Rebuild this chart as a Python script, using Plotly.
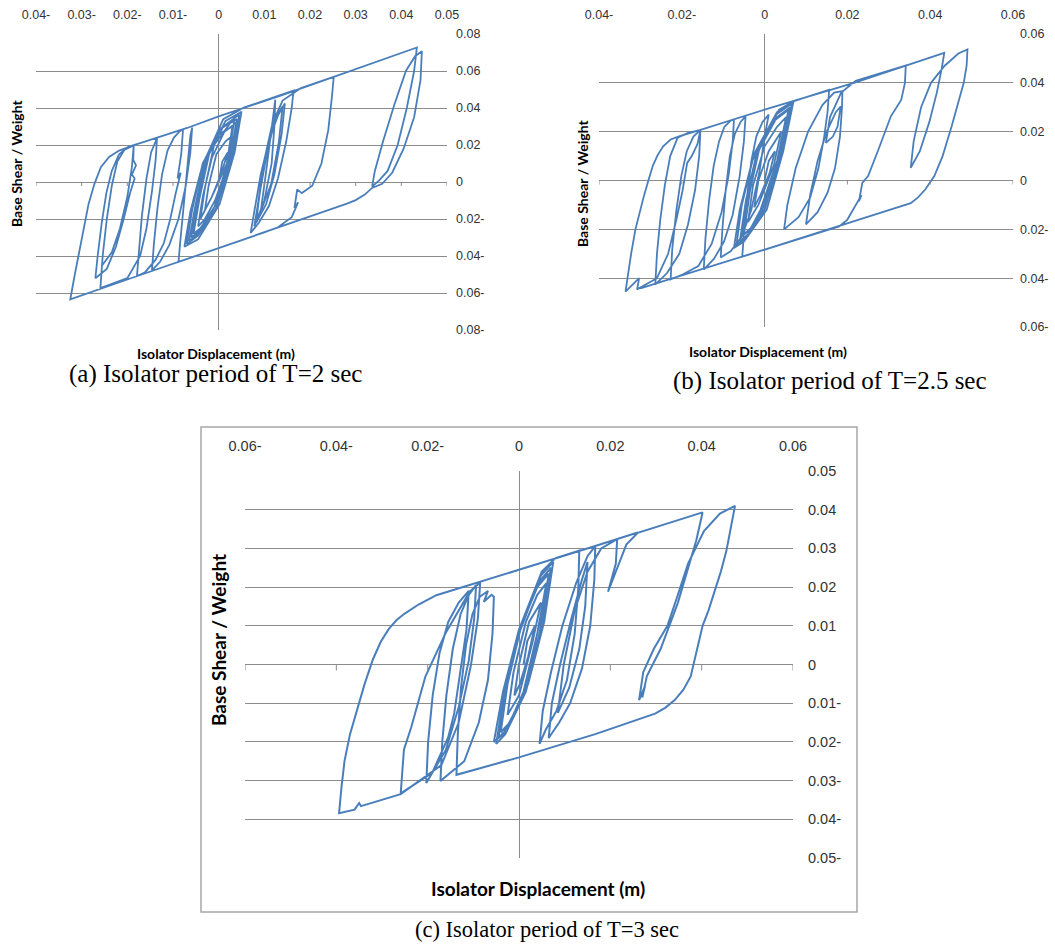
import plotly.graph_objects as go

# ---------------- data (isolator displacement [m], base shear / weight) ----------------
# Panel (a) T = 2 s
path_a = [
    # dense central loops
    (0.0000, 0.0000), (0.0008, 0.0110), (0.0020, 0.0160),
    (0.0005, 0.0040), (-0.0015, -0.0080), (-0.0030, -0.0150),
    (-0.0022, -0.0020), (-0.0005, 0.0150), (0.0015, 0.0220), (0.0030, 0.0250),
    (0.0018, 0.0080), (-0.0008, -0.0100), (-0.0030, -0.0200), (-0.0045, -0.0240),
    (-0.0035, -0.0080), (-0.0015, 0.0130), (0.0012, 0.0270), (0.0038, 0.0320),
    (0.0025, 0.0120), (-0.0005, -0.0120), (-0.0040, -0.0260), (-0.0060, -0.0300),
    (-0.0048, -0.0120), (-0.0025, 0.0130), (0.0010, 0.0300), (0.0045, 0.0365),
    (0.0030, 0.0140), (-0.0005, -0.0140), (-0.0045, -0.0290), (-0.0070, -0.0335),
    (-0.0058, -0.0150), (-0.0035, 0.0100), (0.0005, 0.0290), (0.0040, 0.0340),
    (0.0025, 0.0120), (-0.0008, -0.0130), (-0.0040, -0.0250), (-0.0055, -0.0280),
    (-0.0042, -0.0090), (-0.0020, 0.0160), (0.0015, 0.0330), (0.0050, 0.0380),
    (0.0035, 0.0160), (0.0002, -0.0120), (-0.0045, -0.0310), (-0.0075, -0.0350),
    (-0.0062, -0.0160), (-0.0040, 0.0050), (-0.0005, 0.0250), (0.0030, 0.0300),
    (0.0018, 0.0100), (-0.0015, -0.0080), (-0.0040, -0.0200),
    (-0.0030, -0.0030), (-0.0010, 0.0200), (0.0035, 0.0350),
    (0.0022, 0.0130), (-0.0010, -0.0140), (-0.0045, -0.0280), (-0.0065, -0.0320),
    (-0.0052, -0.0140), (-0.0030, 0.0120), (0.0010, 0.0340), (0.0055, 0.0402),
    # along upper branch to first right reversal
    (0.0100, 0.0440), (0.0164, 0.0494),
    # right-centre loops
    (0.0160, 0.0400), (0.0148, 0.0220), (0.0130, 0.0020), (0.0110, -0.0130),
    (0.0088, -0.0220), (0.0070, -0.0275),
    (0.0078, -0.0160), (0.0092, 0.0040), (0.0112, 0.0240), (0.0130, 0.0360), (0.0145, 0.0425),
    (0.0138, 0.0260), (0.0122, 0.0040), (0.0104, -0.0120), (0.0082, -0.0220),
    (0.0090, -0.0060), (0.0106, 0.0160), (0.0124, 0.0340), (0.0140, 0.0410),
    (0.0132, 0.0220), (0.0115, -0.0010), (0.0092, -0.0160),
    (0.0102, 0.0020), (0.0116, 0.0300), (0.0124, 0.0445),
    (0.0122, 0.0300), (0.0116, 0.0100), (0.0100, -0.0100), (0.0078, -0.0240),
    (0.0086, -0.0120), (0.0100, 0.0120), (0.0118, 0.0320), (0.0140, 0.0440),
    (0.0180, 0.0508), (0.0252, 0.0569),
    (0.0248, 0.0460), (0.0240, 0.0280), (0.0225, 0.0100), (0.0205, -0.0020),
    (0.0182, -0.0060), (0.0172, -0.0040), (0.0166, -0.0140), (0.0174, -0.0110),
    (0.0160, -0.0190), (0.0130, -0.0245), (0.0100, -0.0272), (0.0050, -0.0315),
    (0.0000, -0.0357), (-0.0088, -0.0432),
    # left-centre loops
    (-0.0084, -0.0320), (-0.0078, -0.0160), (-0.0072, 0.0020), (-0.0066, 0.0180),
    (-0.0062, 0.0250), (-0.0058, 0.0295),
    (-0.0062, 0.0160), (-0.0072, -0.0020), (-0.0088, -0.0200), (-0.0108, -0.0340),
    (-0.0128, -0.0430), (-0.0146, -0.0478),
    (-0.0142, -0.0340), (-0.0134, -0.0140), (-0.0124, 0.0040), (-0.0112, 0.0170),
    (-0.0098, 0.0240), (-0.0085, 0.0275), (-0.0078, 0.0285),
    (-0.0082, 0.0150), (-0.0090, 0.0020), (-0.0083, 0.0050), (-0.0094, -0.0060),
    (-0.0106, -0.0200), (-0.0120, -0.0330), (-0.0138, -0.0420), (-0.0162, -0.0490),
    (-0.0179, -0.0509),
    (-0.0175, -0.0380), (-0.0168, -0.0180), (-0.0158, 0.0020), (-0.0148, 0.0160),
    (-0.0135, 0.0238),
    (-0.0138, 0.0120), (-0.0146, -0.0050), (-0.0158, -0.0250), (-0.0172, -0.0400),
    (-0.0200, -0.0520), (-0.0259, -0.0573),
    (-0.0254, -0.0400), (-0.0245, -0.0200), (-0.0234, -0.0020), (-0.0222, 0.0110),
    (-0.0206, 0.0175), (-0.0186, 0.0198),
    (-0.0187, 0.0120), (-0.0181, 0.0090), (-0.0190, 0.0040), (-0.0184, 0.0020),
    (-0.0194, -0.0060), (-0.0208, -0.0200), (-0.0225, -0.0350), (-0.0245, -0.0470),
    (-0.0270, -0.0520),
    (-0.0265, -0.0400), (-0.0256, -0.0220), (-0.0246, -0.0060), (-0.0234, 0.0060),
    (-0.0218, 0.0150), (-0.0198, 0.0190), (-0.0165, 0.0215), (-0.0135, 0.0240),
    (-0.0069, 0.0292), (0.0000, 0.0355), (0.0142, 0.0472), (0.0252, 0.0568),
    (0.0434, 0.0727),
    # big right reversal
    (0.0428, 0.0600), (0.0412, 0.0400), (0.0392, 0.0200), (0.0370, 0.0060),
    (0.0352, 0.0010), (0.0336, -0.0025),
    (0.0342, 0.0060), (0.0360, 0.0220), (0.0385, 0.0420), (0.0410, 0.0600),
    (0.0430, 0.0680), (0.0445, 0.0707),
    (0.0442, 0.0550), (0.0428, 0.0350), (0.0405, 0.0180), (0.0380, 0.0050),
    (0.0358, -0.0010), (0.0336, -0.0032),
    (0.0320, -0.0068), (0.0300, -0.0098), (0.0281, -0.0117), (0.0193, -0.0193),
    (0.0000, -0.0357), (-0.0186, -0.0515), (-0.0325, -0.0635),
    # big left reversal
    (-0.0315, -0.0500), (-0.0300, -0.0300), (-0.0285, -0.0120), (-0.0272, -0.0010),
    (-0.0258, 0.0080), (-0.0240, 0.0135), (-0.0218, 0.0170), (-0.0186, 0.0198),
    (-0.0190, 0.0080), (-0.0200, -0.0080), (-0.0216, -0.0250), (-0.0234, -0.0380),
    (-0.0255, -0.0450),
]

# Panel (b) T = 2.5 s
path_b = [
    (0.0000, 0.0000), (0.0010, 0.0080), (0.0025, 0.0120),
    (0.0012, 0.0030), (-0.0010, -0.0060), (-0.0025, -0.0110),
    (-0.0015, 0.0000), (0.0010, 0.0120), (0.0040, 0.0200),
    (0.0022, 0.0060), (-0.0015, -0.0100), (-0.0040, -0.0170),
    (-0.0028, -0.0020), (0.0000, 0.0140), (0.0030, 0.0220), (0.0052, 0.0260),
    (0.0030, 0.0080), (-0.0010, -0.0120), (-0.0035, -0.0200), (-0.0055, -0.0230),
    (-0.0042, -0.0070), (-0.0015, 0.0120), (0.0030, 0.0260), (0.0062, 0.0300),
    (0.0040, 0.0110), (0.0000, -0.0120), (-0.0045, -0.0235), (-0.0068, -0.0265),
    (-0.0055, -0.0100), (-0.0025, 0.0110), (0.0030, 0.0280), (0.0070, 0.0325),
    (0.0045, 0.0120), (0.0005, -0.0120), (-0.0050, -0.0250), (-0.0074, -0.0276),
    (-0.0060, -0.0120), (-0.0030, 0.0080), (0.0020, 0.0240), (0.0058, 0.0290),
    (0.0032, 0.0090), (-0.0005, -0.0120), (-0.0040, -0.0220), (-0.0060, -0.0250),
    (-0.0045, -0.0080), (-0.0018, 0.0120), (0.0028, 0.0270), (0.0066, 0.0315),
    (0.0038, 0.0110), (0.0000, -0.0100), (-0.0030, -0.0190), (-0.0050, -0.0220),
    (-0.0035, -0.0040), (-0.0010, 0.0150), (0.0035, 0.0290), (0.0071, 0.0325),
    # upper branch, right-centre loops
    (0.0156, 0.0372),
    (0.0152, 0.0280), (0.0144, 0.0180), (0.0130, 0.0050), (0.0110, -0.0070),
    (0.0082, -0.0150), (0.0047, -0.0200),
    (0.0055, -0.0100), (0.0075, 0.0050), (0.0105, 0.0200), (0.0140, 0.0310),
    (0.0168, 0.0360), (0.0188, 0.0366),
    (0.0187, 0.0300), (0.0182, 0.0180), (0.0170, 0.0050), (0.0152, -0.0050),
    (0.0128, -0.0130), (0.0100, -0.0180),
    (0.0110, -0.0060), (0.0128, 0.0080), (0.0150, 0.0200), (0.0172, 0.0280),
    (0.0184, 0.0304),
    (0.0176, 0.0220), (0.0165, 0.0180), (0.0148, 0.0154),
    (0.0158, 0.0260), (0.0185, 0.0360), (0.0220, 0.0408), (0.0341, 0.0471),
    (0.0339, 0.0400), (0.0330, 0.0330), (0.0305, 0.0263), (0.0275, 0.0127),
    (0.0250, 0.0018), (0.0236, -0.0010), (0.0228, -0.0085), (0.0234, -0.0060),
    (0.0216, -0.0112), (0.0200, -0.0160), (0.0180, -0.0188),
    (0.0000, -0.0283), (-0.0054, -0.0312),
    # left loops
    (-0.0050, -0.0220), (-0.0042, -0.0060), (-0.0032, 0.0080), (-0.0020, 0.0180),
    (-0.0005, 0.0240), (0.0010, 0.0270),
    (0.0000, 0.0180), (-0.0012, 0.0040), (-0.0032, -0.0120), (-0.0055, -0.0230),
    (-0.0082, -0.0290), (-0.0106, -0.0315),
    (-0.0102, -0.0200), (-0.0094, -0.0040), (-0.0084, 0.0100), (-0.0072, 0.0190),
    (-0.0058, 0.0240), (-0.0046, 0.0263),
    (-0.0050, 0.0160), (-0.0060, 0.0020), (-0.0077, -0.0140), (-0.0098, -0.0250),
    (-0.0122, -0.0320), (-0.0147, -0.0365),
    (-0.0143, -0.0240), (-0.0134, -0.0080), (-0.0123, 0.0060), (-0.0110, 0.0160),
    (-0.0097, 0.0220), (-0.0082, 0.0245), (-0.0074, 0.0250),
    (-0.0077, 0.0160), (-0.0087, 0.0020), (-0.0104, -0.0130), (-0.0128, -0.0260),
    (-0.0160, -0.0350), (-0.0198, -0.0385), (-0.0227, -0.0405),
    (-0.0223, -0.0280), (-0.0213, -0.0120), (-0.0201, 0.0020), (-0.0188, 0.0120),
    (-0.0172, 0.0180), (-0.0155, 0.0207),
    (-0.0158, 0.0100), (-0.0168, -0.0040), (-0.0185, -0.0180), (-0.0206, -0.0300),
    (-0.0236, -0.0380), (-0.0264, -0.0426),
    (-0.0260, -0.0300), (-0.0252, -0.0160), (-0.0241, -0.0020), (-0.0228, 0.0100),
    (-0.0210, 0.0175), (-0.0185, 0.0195), (-0.0155, 0.0207),
    (-0.0162, 0.0150), (-0.0176, 0.0100), (-0.0187, 0.0072), (-0.0198, -0.0040),
    (-0.0213, -0.0160), (-0.0233, -0.0300), (-0.0260, -0.0400), (-0.0308, -0.0446),
    (-0.0303, -0.0400), (-0.0336, -0.0455),
    # big left loop
    (-0.0330, -0.0380), (-0.0322, -0.0296), (-0.0312, -0.0200), (-0.0302, -0.0132),
    (-0.0291, -0.0060), (-0.0280, 0.0004), (-0.0270, 0.0060), (-0.0259, 0.0102),
    (-0.0245, 0.0140), (-0.0227, 0.0168), (-0.0205, 0.0182), (-0.0155, 0.0207),
    (0.0000, 0.0290), (0.0216, 0.0400), (0.0434, 0.0523),
    # big right loop
    (0.0428, 0.0460), (0.0416, 0.0360), (0.0398, 0.0240), (0.0375, 0.0120),
    (0.0353, 0.0052),
    (0.0360, 0.0160), (0.0378, 0.0300), (0.0402, 0.0400), (0.0435, 0.0470),
    (0.0468, 0.0520), (0.0490, 0.0537),
    (0.0488, 0.0470), (0.0481, 0.0400), (0.0468, 0.0320), (0.0452, 0.0223),
    (0.0430, 0.0100), (0.0410, 0.0018), (0.0388, -0.0037), (0.0370, -0.0070),
    (0.0353, -0.0093),
    (0.0152, -0.0203), (0.0000, -0.0283), (-0.0227, -0.0403), (-0.0300, -0.0442),
]

# Panel (c) T = 3 s
path_c = [
    (0.0010, 0.0000), (0.0018, 0.0060), (0.0035, 0.0100),
    (0.0020, 0.0020), (0.0002, -0.0050), (-0.0010, -0.0080),
    (0.0000, 0.0000), (0.0022, 0.0110), (0.0048, 0.0160),
    (0.0030, 0.0060), (0.0000, -0.0080), (-0.0025, -0.0130),
    (-0.0012, -0.0020), (0.0015, 0.0110), (0.0040, 0.0180), (0.0060, 0.0210),
    (0.0040, 0.0080), (0.0010, -0.0070), (-0.0020, -0.0150), (-0.0040, -0.0175),
    (-0.0025, -0.0050), (0.0005, 0.0100), (0.0045, 0.0215), (0.0070, 0.0250),
    (0.0050, 0.0100), (0.0015, -0.0070), (-0.0030, -0.0180), (-0.0050, -0.0205),
    (-0.0033, -0.0080), (0.0000, 0.0080), (0.0048, 0.0230), (0.0075, 0.0265),
    (0.0055, 0.0110), (0.0020, -0.0050), (-0.0025, -0.0165), (-0.0045, -0.0190),
    (-0.0028, -0.0060), (0.0005, 0.0100), (0.0040, 0.0200), (0.0065, 0.0235),
    (0.0045, 0.0080), (0.0010, -0.0080), (-0.0035, -0.0180), (-0.0055, -0.0200),
    (-0.0035, -0.0070), (0.0000, 0.0090), (0.0050, 0.0240), (0.0080, 0.0275),
    # upper branch, right-centre loops
    (0.0132, 0.0294),
    (0.0130, 0.0200), (0.0122, 0.0080), (0.0105, -0.0040), (0.0082, -0.0120),
    (0.0058, -0.0170), (0.0045, -0.0205),
    (0.0052, -0.0120), (0.0070, -0.0020), (0.0095, 0.0100), (0.0125, 0.0210),
    (0.0150, 0.0280), (0.0167, 0.0306),
    (0.0165, 0.0220), (0.0156, 0.0100), (0.0138, -0.0010), (0.0112, -0.0100),
    (0.0088, -0.0150), (0.0065, -0.0190),
    (0.0072, -0.0100), (0.0090, 0.0000), (0.0115, 0.0120), (0.0138, 0.0220),
    (0.0150, 0.0265),
    (0.0145, 0.0150), (0.0132, 0.0040), (0.0110, -0.0060), (0.0085, -0.0125),
    (0.0098, 0.0000), (0.0122, 0.0140), (0.0150, 0.0240), (0.0180, 0.0300),
    (0.0215, 0.0324),
    (0.0212, 0.0260), (0.0195, 0.0188), (0.0222, 0.0271), (0.0235, 0.0310),
    (0.0260, 0.0340), (0.0402, 0.0393),
    # big right excursion
    (0.0388, 0.0320), (0.0368, 0.0240), (0.0348, 0.0160), (0.0332, 0.0109),
    (0.0310, 0.0040), (0.0280, -0.0030), (0.0270, -0.0085), (0.0276, -0.0055),
    (0.0263, -0.0092),
    (0.0272, -0.0020), (0.0295, 0.0040), (0.0325, 0.0100), (0.0345, 0.0170),
    (0.0370, 0.0260), (0.0405, 0.0345), (0.0440, 0.0390), (0.0473, 0.0410),
    (0.0465, 0.0360), (0.0454, 0.0293), (0.0442, 0.0240), (0.0428, 0.0188),
    (0.0415, 0.0140), (0.0402, 0.0100), (0.0390, 0.0040), (0.0376, -0.0031),
    (0.0360, -0.0065), (0.0341, -0.0092), (0.0320, -0.0112), (0.0298, -0.0127),
    (0.0167, -0.0180), (0.0000, -0.0240), (-0.0137, -0.0285),
    # left loops
    (-0.0134, -0.0180), (-0.0127, -0.0060), (-0.0116, 0.0050), (-0.0102, 0.0130),
    (-0.0086, 0.0175), (-0.0068, 0.0190), (-0.0077, 0.0162), (-0.0060, 0.0180),
    (-0.0055, 0.0175),
    (-0.0058, 0.0080), (-0.0068, -0.0040), (-0.0088, -0.0150), (-0.0120, -0.0250),
    (-0.0172, -0.0301),
    (-0.0168, -0.0200), (-0.0159, -0.0080), (-0.0145, 0.0040), (-0.0128, 0.0130),
    (-0.0110, 0.0180), (-0.0094, 0.0205),
    (-0.0098, 0.0120), (-0.0110, 0.0010), (-0.0132, -0.0110), (-0.0160, -0.0220),
    (-0.0203, -0.0306),
    (-0.0199, -0.0200), (-0.0189, -0.0080), (-0.0174, 0.0030), (-0.0155, 0.0110),
    (-0.0132, 0.0160), (-0.0110, 0.0190),
    (-0.0115, 0.0090), (-0.0128, -0.0020), (-0.0142, -0.0127), (-0.0155, -0.0188),
    (-0.0190, -0.0280), (-0.0259, -0.0333),
    (-0.0252, -0.0220), (-0.0236, -0.0162), (-0.0205, -0.0031), (-0.0160, 0.0083),
    (-0.0108, 0.0188), (-0.0085, 0.0212),
    (-0.0090, 0.0120), (-0.0105, 0.0000), (-0.0132, -0.0150), (-0.0170, -0.0260),
    (-0.0259, -0.0335), (-0.0346, -0.0366), (-0.0350, -0.0358), (-0.0360, -0.0375),
    (-0.0394, -0.0384),
    # big left loop and upper branch
    (-0.0389, -0.0320), (-0.0382, -0.0249), (-0.0370, -0.0180), (-0.0355, -0.0118),
    (-0.0338, -0.0050), (-0.0320, 0.0013), (-0.0303, 0.0058), (-0.0285, 0.0092),
    (-0.0268, 0.0115), (-0.0251, 0.0131), (-0.0220, 0.0155), (-0.0181, 0.0179),
    (-0.0094, 0.0210), (0.0000, 0.0245), (0.0167, 0.0306), (0.0260, 0.0341),
]

# tick values and labels (minus sign written after the number, as in the original)
xticks_a = [-0.04, -0.03, -0.02, -0.01, 0, 0.01, 0.02, 0.03, 0.04, 0.05]
xlabels_a = ["0.04-", "0.03-", "0.02-", "0.01-", "0", "0.01", "0.02", "0.03", "0.04", "0.05"]
yticks_a = [-0.08, -0.06, -0.04, -0.02, 0, 0.02, 0.04, 0.06, 0.08]
ylabels_a = ["0.08-", "0.06-", "0.04-", "0.02-", "0", "0.02", "0.04", "0.06", "0.08"]

xticks_b = [-0.04, -0.02, 0, 0.02, 0.04, 0.06]
xlabels_b = ["0.04-", "0.02-", "0", "0.02", "0.04", "0.06"]
yticks_b = [-0.06, -0.04, -0.02, 0, 0.02, 0.04, 0.06]
ylabels_b = ["0.06-", "0.04-", "0.02-", "0", "0.02", "0.04", "0.06"]

xticks_c = [-0.06, -0.04, -0.02, 0, 0.02, 0.04, 0.06]
xlabels_c = ["0.06-", "0.04-", "0.02-", "0", "0.02", "0.04", "0.06"]
yticks_c = [-0.05, -0.04, -0.03, -0.02, -0.01, 0, 0.01, 0.02, 0.03, 0.04, 0.05]
ylabels_c = ["0.05-", "0.04-", "0.03-", "0.02-", "0.01-", "0", "0.01", "0.02", "0.03", "0.04", "0.05"]

x_title = "Isolator Displacement (m)"
y_title = "Base Shear / Weight"
captions = ["(a) Isolator period of T=2 sec", "(b) Isolator period of T=2.5 sec",
            "(c) Isolator period of T=3 sec"]

# ---------------- styling ----------------
W, H = 1055, 945
LINE = "#4a7ebb"
GRID = "#8c8c8c"
TICKC = "#333333"
TICKFONT = "Liberation Sans"
TITLEFONT = "Lato"
CAPFONT = "Liberation Serif"


def px_x(p):
    return p / W


def px_y(p):
    return 1 - p / H


fig = go.Figure()

panels = [
    dict(ax="", path=path_a, xr=[-0.04, 0.05], yr=[-0.08, 0.08], xd=(36, 447), yd=(34, 330),
         xt=xticks_a, xl=xlabels_a, yt=yticks_a, yl=ylabels_a, fs=12.5, lw=1.8,
         xso=12, yso=8, tick=4),
    dict(ax="2", path=path_b, xr=[-0.04, 0.06], yr=[-0.06, 0.06], xd=(599, 1013), yd=(34, 327),
         xt=xticks_b, xl=xlabels_b, yt=yticks_b, yl=ylabels_b, fs=12.5, lw=1.8,
         xso=12, yso=6, tick=4),
    dict(ax="3", path=path_c, xr=[-0.06, 0.06], yr=[-0.05, 0.05], xd=(245, 793), yd=(471, 858),
         xt=xticks_c, xl=xlabels_c, yt=yticks_c, yl=ylabels_c, fs=14.5, lw=2.0,
         xso=16, yso=14, tick=6),
]

layout_axes = {}
shapes = []
for p in panels:
    xs = [pt[0] for pt in p["path"]]
    ys = [pt[1] for pt in p["path"]]
    fig.add_trace(go.Scatter(
        x=xs, y=ys, mode="lines", line=dict(color=LINE, width=p["lw"]),
        xaxis="x" + p["ax"], yaxis="y" + p["ax"], showlegend=False, hoverinfo="skip"))
    xname = "xaxis" + p["ax"]
    yname = "yaxis" + p["ax"]
    layout_axes[xname] = dict(
        domain=[px_x(p["xd"][0]), px_x(p["xd"][1])], range=p["xr"], side="top",
        anchor="y" + p["ax"], tickmode="array", tickvals=p["xt"], ticktext=p["xl"],
        showgrid=False, zeroline=True, zerolinecolor=GRID, zerolinewidth=1,
        showline=False, ticks="", ticklabelstandoff=p["xso"], automargin=False,
        tickfont=dict(family=TICKFONT, size=p["fs"], color=TICKC), fixedrange=True)
    layout_axes[yname] = dict(
        domain=[px_y(p["yd"][1]), px_y(p["yd"][0])], range=p["yr"], side="right",
        anchor="x" + p["ax"], tickmode="array", tickvals=p["yt"], ticktext=p["yl"],
        showgrid=True, gridcolor=GRID, gridwidth=1, zeroline=True, zerolinecolor=GRID,
        zerolinewidth=1, showline=False, ticks="", ticklabelstandoff=p["yso"],
        automargin=False,
        tickfont=dict(family=TICKFONT, size=p["fs"], color=TICKC), fixedrange=True)
    # small tick marks hanging below the horizontal axis (y = 0)
    for tv in p["xt"]:
        shapes.append(dict(type="line", xref="x" + p["ax"], yref="y" + p["ax"],
                           x0=tv, x1=tv, ysizemode="pixel", yanchor=0, y0=0, y1=-p["tick"],
                           line=dict(color=GRID, width=1)))

# frame around panel (c)
shapes.append(dict(type="rect", xref="paper", yref="paper",
                   x0=px_x(201), x1=px_x(857), y0=px_y(912), y1=px_y(427),
                   line=dict(color="#a6a6a6", width=1.5), fillcolor="rgba(0,0,0,0)", layer="below"))

annotations = []


def ann(text, x, y, size, family, angle=0, bold=False, color="black"):
    annotations.append(dict(
        text=("<b>%s</b>" % text) if bold else text, x=px_x(x), y=px_y(y),
        xref="paper", yref="paper", showarrow=False, textangle=angle,
        xanchor="center", yanchor="middle",
        font=dict(family=family, size=size, color=color)))


# axis titles
ann(y_title, 17, 163, 14, TITLEFONT, angle=-90, bold=True)
ann(x_title, 216, 353, 14, TITLEFONT, bold=True)
ann(y_title, 583, 183, 14, TITLEFONT, angle=-90, bold=True)
ann(x_title, 768, 352, 14, TITLEFONT, bold=True)
ann(y_title, 218, 640, 19, TITLEFONT, angle=-90, bold=True)
ann(x_title, 538, 888, 19, TITLEFONT, bold=True)
# captions
ann(captions[0], 215, 374, 25, CAPFONT)
ann(captions[1], 830, 381, 25, CAPFONT)
ann(captions[2], 547, 929, 22.5, CAPFONT)

fig.update_layout(
    width=W, height=H, margin=dict(l=0, r=0, t=0, b=0, pad=0, autoexpand=False),
    paper_bgcolor="white", plot_bgcolor="white", showlegend=False,
    shapes=shapes, annotations=annotations, **layout_axes)

# page without the browser's default body margin so the figure fills the window exactly
fig.write_html("out.html",
               config={"displayModeBar": False, "staticPlot": True},
               post_script="document.body.style.margin='0px';document.body.style.overflow='hidden';")
